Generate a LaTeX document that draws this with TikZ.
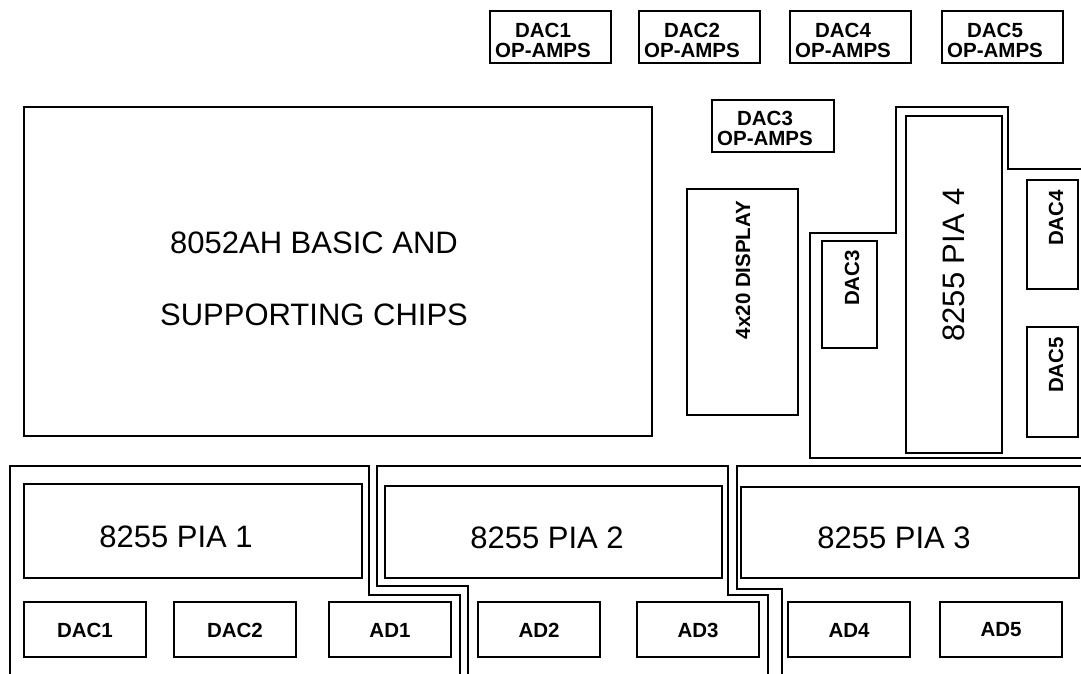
\documentclass[tikz,border=0pt]{standalone}
\usepackage{fontspec}
\setmainfont{Liberation Sans}

\begin{document}
\begin{tikzpicture}[x=1pt, y=-1pt, line width=2.4pt, line join=miter,
    biglbl/.style={inner sep=0pt, font=\fontsize{31}{36}\selectfont},
    chiplbl/.style={inner sep=0pt, font=\fontsize{20.5}{20}\selectfont\bfseries}]

  \path[use as bounding box] (0,0) rectangle (1081,673);

  % ── 8052AH BASIC 主板区 ──
  \draw (24,107) rectangle (652,436);
  \node[biglbl] (cpuA) at (314,243) {8052AH BASIC AND};
  \node[biglbl] (cpuB) at (314,315) {SUPPORTING CHIPS};

  % ── 上排运放 ──
  \foreach \x/\n in {490/1, 639/2, 790/4, 942/5} {
    \draw (\x,11) rectangle ++(121,52);
    \node[chiplbl, align=center] (amp\n) at (\x+53,40) {DAC\n\\OP-AMPS};
  }
  \draw (712,100) rectangle (834,152);
  \node[chiplbl, align=center] (amp3) at (765,128) {DAC3\\OP-AMPS};

  % ── 显示器 ──
  \draw (687,189) rectangle (798,415);
  \node[chiplbl, rotate=90] (disp) at (743,270) {4x20 DISPLAY};

  % ── PIA 4 区（L 形外框）──
  \draw (1083,458) -- (810,458) -- (810,233) -- (896,233) -- (896,107)
     -- (1008,107) -- (1008,169) -- (1083,169);
  \draw (906,116) rectangle (1002,453);
  \node[biglbl, rotate=90] (pia4) at (954,265) {8255 PIA 4};
  \draw (822,241) rectangle (877,348);
  \node[chiplbl, rotate=90] (dac3v) at (852,278) {DAC3};
  \draw (1027,180) rectangle (1078,289);
  \node[chiplbl, rotate=90] (dac4v) at (1056,218) {DAC4};
  \draw (1027,327) rectangle (1078,437);
  \node[chiplbl, rotate=90] (dac5v) at (1056,365) {DAC5};

  % ── PIA 1/2/3 外框 ──
  \draw (10,675) -- (10,466) -- (369,466) -- (369,595) -- (460,595) -- (460,675);
  \draw (468,675) -- (468,586) -- (377,586) -- (377,466) -- (728,466)
     -- (728,595) -- (768,595) -- (768,675);
  \draw (782,675) -- (782,589) -- (737,589) -- (737,466) -- (1083,466);

  % ── 三个 PIA ──
  \draw (24,484) rectangle (362,578);
  \node[biglbl] (pia1) at (176,537) {8255 PIA 1};
  \draw (385,486) rectangle (722,578);
  \node[biglbl] (pia2) at (547,538) {8255 PIA 2};
  \draw (741,487) rectangle (1079,578);
  \node[biglbl] (pia3) at (894,538) {8255 PIA 3};

  % ── 底排 DAC / AD ──
  \foreach \x/\t in {24/DAC1, 174/DAC2, 329/AD1, 478/AD2, 637/AD3, 788/AD4, 940/AD5} {
    \draw (\x,602) rectangle ++(122,55);
    \node[chiplbl] (\t) at (\x+61,630) {\t};
  }
\end{tikzpicture}
\end{document}
